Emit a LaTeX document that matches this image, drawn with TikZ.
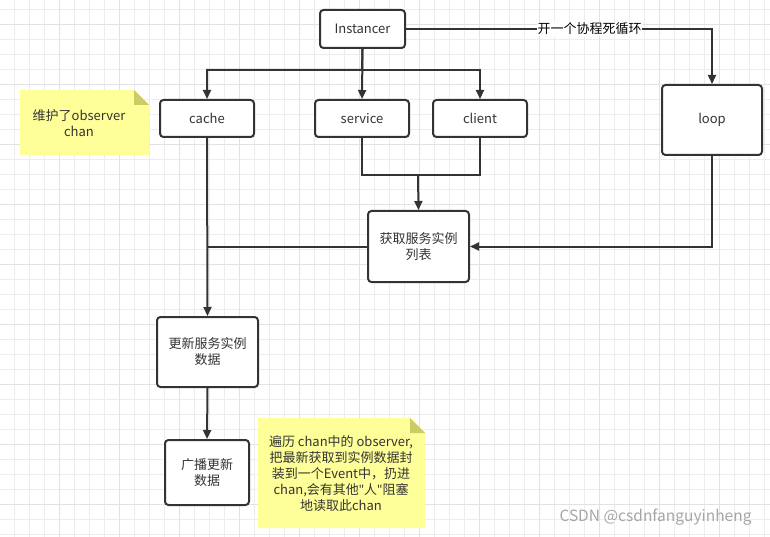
\documentclass[tikz,border=0pt]{standalone}
\usepackage{fontspec}
\setmainfont{Noto Sans CJK SC}
\newfontfamily\latq{Noto Sans}
\usetikzlibrary{arrows.meta}
\definecolor{lc}{HTML}{333333}
\definecolor{gminor}{HTML}{EDEDED}
\definecolor{gmajor}{HTML}{E2E2E2}
\definecolor{notefill}{HTML}{FFFF99}
\definecolor{notefold}{HTML}{CCCC66}
\tikzset{
  box/.style={draw=lc, line width=2pt, rounded corners=3.5pt, fill=white, text=lc, align=center, font=\fontsize{13}{16}\selectfont, inner sep=0pt},
  conn/.style={draw=lc, line width=2pt},
  arr/.style={conn, -{Triangle[length=9pt,width=8pt]}},
  notetext/.style={text=lc, align=center, font=\fontsize{13}{16}\selectfont},
}
\begin{document}
\begin{tikzpicture}[x=1pt,y=-1pt]
\useasboundingbox (0,0) rectangle (770,537);
\fill[white] (0,0) rectangle (770,537);
% grid
\foreach \x in {14,29,...,770} \draw[gminor, line width=0.8pt] (\x,0) -- (\x,537);
\foreach \y in {9.5,24.5,...,537} \draw[gminor, line width=0.8pt] (0,\y) -- (770,\y);
\foreach \x in {59,119,...,770} \draw[gmajor, line width=0.9pt] (\x,0) -- (\x,537);
\foreach \y in {24.5,84.5,...,537} \draw[gmajor, line width=0.9pt] (0,\y) -- (770,\y);

% nodes
\node[box, minimum width=85pt, minimum height=38pt] (inst) at (362.5,29) {Instancer};
\node[box, minimum width=94pt, minimum height=37pt] (cache) at (207,118.5) {cache};
\node[box, minimum width=94pt, minimum height=37pt] (service) at (362,118.5) {service};
\node[box, minimum width=94pt, minimum height=37pt] (client) at (480,118.5) {client};
\node[box, minimum width=100pt, minimum height=70pt] (loop) at (712,120) {loop};
\node[box, minimum width=101pt, minimum height=71pt] (fetch) at (418.5,246.5) {获取服务实例\\列表};
\node[box, minimum width=101pt, minimum height=70pt] (update) at (207.5,352) {更新服务实例\\数据};
\node[box, minimum width=84pt, minimum height=65pt] (bcast) at (207,472.5) {广播更新\\数据};

% coordinates
\coordinate (split) at (362,70);
\coordinate (join) at (418,175);

% connectors
\draw[arr] (inst.east) -| (loop.north)
  node[pos=0.3, fill=white, inner sep=0.5pt, text=black, font=\fontsize{13}{15}\selectfont] {开一个协程死循环};
\draw[arr] (inst.south) -- (split) -| (cache.north);
\draw[arr] (inst.south) -- (service.north);
\draw[arr] (split) -| (client.north);
\draw[conn] (service.south) |- (join);
\draw[conn] (client.south) |- (join);
\draw[arr] (join) -- (fetch.north);
\draw[arr] (loop.south) |- (fetch.east);
\draw[conn] (fetch.west) -- (cache.south |- fetch.west);
\draw[arr] (cache.south) -- (update.north);
\draw[arr] (update.south) -- (bcast.north);

% note 1
\fill[notefill] (20,90) -- (134,90) -- (149,105) -- (149,155) -- (20,155) -- cycle;
\fill[notefold] (134,90) -- (149,105) -- (134,105) -- cycle;
\node[notetext] (n1) at (79,123) {维护了observer\\chan};

% note 2
\fill[notefill] (258,418) -- (410,418) -- (425,433) -- (425,528) -- (258,528) -- cycle;
\fill[notefold] (410,418) -- (425,433) -- (410,433) -- cycle;
\node[notetext] (n2) at (341,474) {遍历 chan中的 observer,\\把最新获取到实例数据封\\装到一个Event中，扔进\\chan,会有其他{\latq "}人{\latq "}阻塞\\地读取此chan};

% watermark
\node[text=gray!70, font=\fontsize{15.5}{17}\selectfont, anchor=east] (wm) at (755,517) {CSDN @csdnfanguyinheng};
\end{tikzpicture}
\end{document}
